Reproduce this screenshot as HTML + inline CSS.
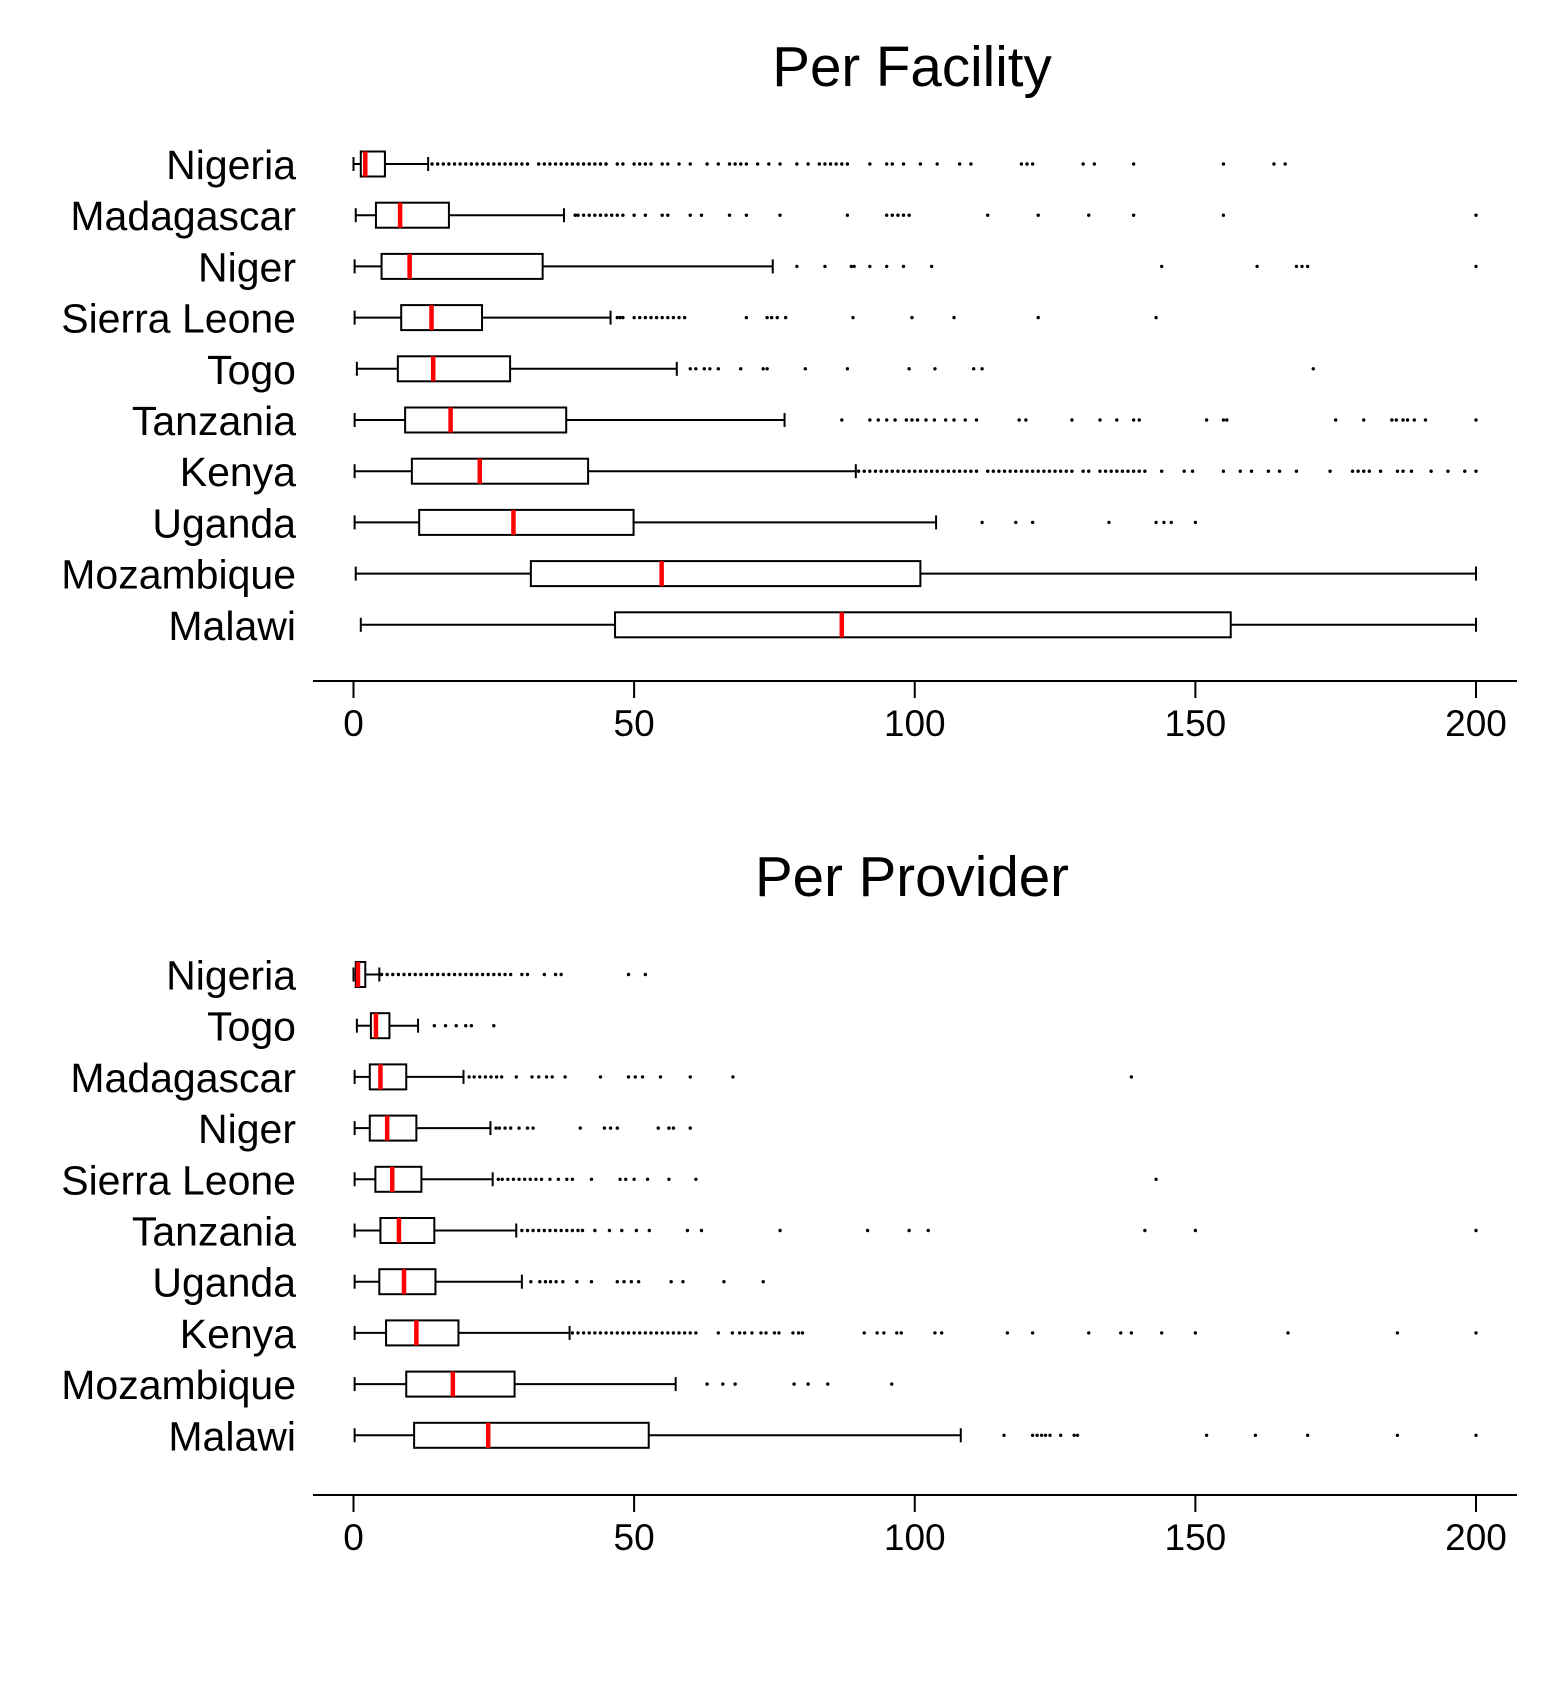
<!DOCTYPE html>
<html><head><meta charset="utf-8"><style>
html,body{margin:0;padding:0;background:#fff;}
svg{display:block;font-family:"Liberation Sans",Arial,sans-serif;}
</style></head><body>
<svg id="chart" width="1552" height="1694" viewBox="0 0 1552 1694" xmlns="http://www.w3.org/2000/svg"></svg>
<script>
// ---- Per Facility data ----
const facCountries = ["Nigeria","Madagascar","Niger","Sierra Leone","Togo","Tanzania","Kenya","Uganda","Mozambique","Malawi"];
const facMin = [0,0.4,0.2,0.2,0.6,0.2,0.2,0.2,0.4,1.3];
const facQ1 = [1.3,4,5,8.5,7.9,9.2,10.4,11.7,31.6,46.6];
const facMed = [2.1,8.3,10,13.9,14.2,17.3,22.5,28.5,54.9,87];
const facQ3 = [5.6,17,33.7,22.9,27.9,37.9,41.8,49.9,101,156.3];
const facMax = [13.3,37.5,74.7,45.8,57.6,76.8,89.5,103.8,200,200];
const facOut = [
 [14,15,16,17,18,19,20,21,22,23,24,25,26,27,28,29,30,31,33,34,35,36,37,38,39,40,41,42,43,44,45,47,48,50,51,52,53,55,56,58,60,63,65,67,68,69,70,72,74,76,79,81,83,84,85,86,87,88,92,95,96,98,101,104,108,110,119,120,121,130,132,139,155,164,166],
 [39.5,40,41,42,43,44,45,46,47,48,50,52,55,56,60,62,67,70,76,88,95,96,97,98,99,113,122,131,139,155,200],
 [79,84,88.7,89.2,92,95,98,103,144,161,168,169,170,200],
 [47,47.5,48,50,51,52,53,54,55,56,57,58,59,70,73.7,74.5,75.5,77,89,99.5,107,122,143],
 [60,61,62.5,63.5,65,69,73,73.7,80.5,88,99,103.6,110.5,112,171],
 [87,92,93.5,95,96.5,98.5,99.5,100.5,102,103.5,105.5,107,109,111,118.6,119.8,128,133,136,139,140,152,155,155.6,175,180,185,185.8,187,187.8,189,191,200],
 [90,91,92,93,94,95,96,97,98,99,100,101,102,103,104,105,106,107,108,109,110,111,113,114,115,116,117,118,119,120,121,122,123,124,125,126,127,128,130,131,133,134,135,136,137,138,139,140,141,144,148,149.5,155,158,160,163,165,168,174,178,179,180,181,183,186,187,188.5,192,195,198,200],
 [112,118,121,134.6,143,144.4,145.7,150],
 [],
 []
];
// ---- Per Provider data ----
const provCountries = ["Nigeria","Togo","Madagascar","Niger","Sierra Leone","Tanzania","Uganda","Kenya","Mozambique","Malawi"];
const provMin = [0,0.6,0.2,0.2,0.2,0.2,0.2,0.2,0.2,0.2];
const provQ1 = [0.4,3.1,2.9,2.9,3.9,4.8,4.6,5.8,9.4,10.8];
const provMed = [0.8,4,4.8,6,6.9,8.1,9,11.2,17.7,24];
const provQ3 = [2.1,6.4,9.4,11.2,12.1,14.4,14.6,18.7,28.7,52.6];
const provMax = [4.6,11.5,19.6,24.4,24.8,29,30,38.5,57.4,108.2];
const provOut = [
 [5,6,7,8,9,10,11,12,13,14,15,16,17,18,19,20,21,22,23,24,25,26,27,28,30,31,34,36,37,49,52],
 [14.4,16.4,18.3,20,21,25],
 [20.6,21.5,22.5,23.5,24.5,25.5,26.4,29,31.8,33,34.4,35.4,37.7,44,49,50.2,51.5,54.7,60,67.6,138.6],
 [25.4,26,27,28,29.5,31,32,40.4,44.7,45.8,47,54.3,56.2,57,60],
 [25.8,26.5,27.5,28.5,29.5,30.5,31.5,32.5,33.5,35,36.5,38,39,42.4,47.5,48.5,50,52.4,56.2,61,143],
 [30,31,32,33,34,35,36,37,38,39,40,40.8,43,45.6,47.8,50.4,52.7,59.5,62,76,91.6,99,102.4,141,150,200],
 [31.6,33.2,34.2,35.1,36.1,37.3,39.8,42.4,47,48.2,49.5,50.8,56.6,58.7,66,73],
 [39,40,41,42,43,44,45,46,47,48,49,50,51,52,53,54,55,56,57,58,59,60,61,65,67.5,68.8,69.7,71,72.6,73.5,75,75.8,78.3,79.3,80,91,93.3,94.5,96.8,97.6,103.6,104.8,116.5,121,131,136.7,138.6,144,150,166.5,186,200],
 [63,65.8,68,78.5,81,84.5,95.9],
 [115.9,121,121.8,122.6,123.3,124.1,126,128.4,129,152,160.7,170,186,200]
];
const xTicks = [0,50,100,150,200];

const NS = "http://www.w3.org/2000/svg";
const svg = document.getElementById("chart");
function mk(tag, attrs, parent){
  const e = document.createElementNS(NS, tag);
  for (const k in attrs) e.setAttribute(k, attrs[k]);
  (parent||svg).appendChild(e);
  return e;
}
const X0 = 353.5, X1 = 1476;
function xs(v){ return X0 + (v/200)*(X1-X0); }

function panel(opt){
  const g = mk("g", {});
  
  
  const t = mk("text", {x:912, y:opt.titleY, "font-size":56.5, "text-anchor":"middle", fill:"#000"}, g);
  t.textContent = opt.title;
  
  
  const bh = 25;
  opt.countries.forEach((c,i)=>{
    const cy = opt.y0 + i*opt.step;
    const rg = mk("g", {}, g);
    
    
    const lab = mk("text", {x:296, y:cy+15, "font-size":41, "text-anchor":"end", fill:"#000"}, rg);
    lab.textContent = c;
    
    
    const sw = {stroke:"#000","stroke-width":2, fill:"none"};
    const w1 = mk("line", Object.assign({x1:xs(opt.min[i]), x2:xs(opt.q1[i]), y1:cy, y2:cy}, sw), rg);
    
    
    const c1 = mk("line", Object.assign({x1:xs(opt.min[i]), x2:xs(opt.min[i]), y1:cy-7, y2:cy+7}, sw), rg);
    
    
    const w2 = mk("line", Object.assign({x1:xs(opt.q3[i]), x2:xs(opt.max[i]), y1:cy, y2:cy}, sw), rg);
    
    
    const c2 = mk("line", Object.assign({x1:xs(opt.max[i]), x2:xs(opt.max[i]), y1:cy-7, y2:cy+7}, sw), rg);
    
    
    const box = mk("rect", Object.assign({x:xs(opt.q1[i]), y:cy-bh/2, width:xs(opt.q3[i])-xs(opt.q1[i]), height:bh}, sw), rg);
    
    
    const md = mk("line", {x1:xs(opt.med[i]), x2:xs(opt.med[i]), y1:cy-bh/2, y2:cy+bh/2, stroke:"#ff0000","stroke-width":4.5}, rg);
    
    
    opt.out[i].forEach(v=>{
      const d = mk("circle", {cx:xs(v), cy:cy, r:1.7, fill:"#000"}, rg);
      
      
    });
  });
  const ax = mk("line", {x1:313, x2:1517, y1:opt.axisY, y2:opt.axisY, stroke:"#000","stroke-width":2}, g);
  
  
  xTicks.forEach(v=>{
    const tk = mk("line", {x1:xs(v), x2:xs(v), y1:opt.axisY, y2:opt.axisY+17, stroke:"#000","stroke-width":2}, g);
    
    
    const tl = mk("text", {x:xs(v), y:opt.axisY+55, "font-size":37, "text-anchor":"middle", fill:"#000"}, g);
    tl.textContent = v;
    
    
  });
}
panel({name:"per-facility-panel", title:"Per Facility", titleY:86, y0:164, step:51.2, axisY:681,
  countries:facCountries, min:facMin, q1:facQ1, med:facMed, q3:facQ3, max:facMax, out:facOut});
panel({name:"per-provider-panel", title:"Per Provider", titleY:896, y0:974.5, step:51.2, axisY:1495,
  countries:provCountries, min:provMin, q1:provQ1, med:provMed, q3:provQ3, max:provMax, out:provOut});
</script>
</body></html>
